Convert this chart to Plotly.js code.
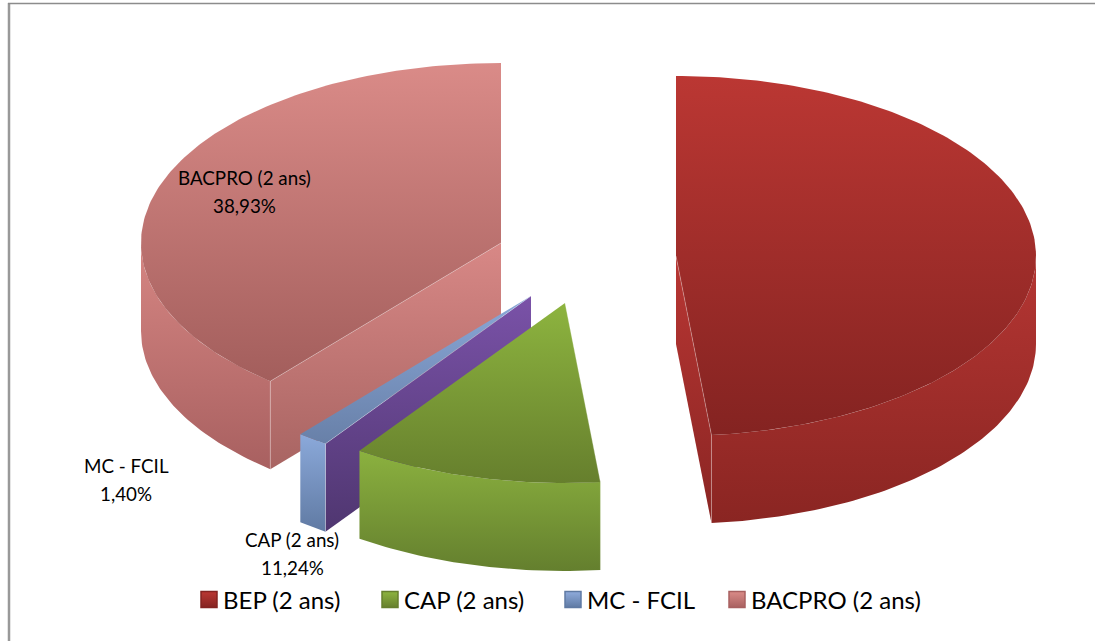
<!DOCTYPE html>
<html>
<head>
<meta charset="utf-8">
<title>Répartition par diplôme</title>
<script src="https://cdn.plot.ly/plotly-3.0.1.min.js"></script>
<style>html,body{margin:0;padding:0;background:#fff}#chart{width:1095px;height:641px}
/* the swatch sits closer to its label in the reference than the legend's fixed item gap allows */
#chart .legendpoints{transform:translateX(6px)}</style>
</head>
<body>
<div id="chart"></div>
<script>
// ---- data ----
const categories = ['BEP (2 ans)', 'CAP (2 ans)', 'MC - FCIL', 'BACPRO (2 ans)'];
const shares = [48.43, 11.24, 1.40, 38.93];

// ---- exploded-pie projection (pixel-scaled axes) ----
const centerX = [676, 565, 531, 501];
const centerY = [256, 303, 296, 243];
const labelX = [1096, 292, 126, 244];
const labelY = [228, 539, 465, 177];
const legendX = [183, 364, 547, 711];
const radiusX = 360, radiusY = 180, depth = 88;

// ---- styles ----
const topColors = [['#bb3733', '#842321'], ['#8db43f', '#667f2d'], ['#8aa8d8', '#6880a8'], ['#da8b88', '#a35e5c']];
const wallColors = [['#b53633', '#8a2522'], ['#8bb13f', '#647f2e'], ['#8ba9da', '#607aa3'], ['#d68683', '#a86060']];
const cutColors = [['#b83633', '#8a2523'], ['#8bb13f', '#647f2e'], ['#7a52a8', '#4f3670'], ['#d88886', '#a86462']];
const swatchColors = [['#bb3733', '#842321'], ['#8db43f', '#667f2d'], ['#8fabdc', '#5f7aa3'], ['#da8b88', '#a86060']];
const fontFamily = 'Lato, Carlito, Calibri, sans-serif';

const rad = d => d * Math.PI / 180;
const px = (i, a) => centerX[i] + radiusX * Math.sin(rad(a));
const py = (i, a, dz) => centerY[i] - radiusY * Math.cos(rad(a)) + (dz || 0);
function arcAngles(a0, a1) {
  const out = [];
  const n = Math.max(2, Math.ceil((a1 - a0) / 1));
  for (let k = 0; k <= n; k++) out.push(a0 + (a1 - a0) * k / n);
  return out;
}
function gradientTrace(xs, ys, colors, name) {
  return {
    type: 'scatter', mode: 'lines', x: xs, y: ys, fill: 'toself',
    line: {width: 0, color: colors[0]},
    fillcolor: colors[0],
    fillgradient: {type: 'vertical', colorscale: [[0, colors[1]], [1, colors[0]]]},
    showlegend: false, name: name, hoverinfo: 'name'
  };
}
function edgeTrace(xs, ys) {
  return {type: 'scatter', mode: 'lines', x: xs, y: ys,
    line: {width: 1, color: 'rgba(255,255,255,0.28)'}, showlegend: false, hoverinfo: 'skip'};
}

const traces = [];
const total = shares.reduce((a, b) => a + b, 0);
let acc = 0;
const spans = shares.map(v => { const s = [acc, acc + v / total * 360]; acc = s[1]; return s; });
const drawOrder = [3, 2, 1, 0];

drawOrder.forEach(i => {
  const [a0, a1] = spans[i];
  const name = categories[i];
  // radial cut faces turned towards the viewer
  [[a0, Math.sin(rad(a0)) < -1e-6], [a1, Math.sin(rad(a1)) > 1e-6]].forEach(([a, seen]) => {
    if (!seen) return;
    traces.push(gradientTrace(
      [centerX[i], px(i, a), px(i, a), centerX[i], centerX[i]],
      [centerY[i], py(i, a), py(i, a, depth), centerY[i] + depth, centerY[i]],
      cutColors[i], name));
  });
  // outer wall
  const w0 = Math.max(a0, 90), w1 = Math.min(a1, 270);
  if (w1 > w0) {
    const angs = arcAngles(w0, w1);
    const rev = angs.slice().reverse();
    traces.push(gradientTrace(
      angs.map(a => px(i, a)).concat(rev.map(a => px(i, a))),
      angs.map(a => py(i, a)).concat(rev.map(a => py(i, a, depth))),
      wallColors[i], name));
  }
  // top face
  const angs = arcAngles(a0, a1);
  traces.push(gradientTrace(
    [centerX[i]].concat(angs.map(a => px(i, a))).concat([centerX[i]]),
    [centerY[i]].concat(angs.map(a => py(i, a))).concat([centerY[i]]),
    topColors[i], name));
  // light edges at the visible corner
  const corner = Math.sin(rad(a1)) > 0 ? a1 : a0;
  traces.push(edgeTrace(
    [centerX[i], px(i, corner), px(i, corner)],
    [centerY[i], py(i, corner), py(i, corner, depth)]));
});

// legend entries
categories.forEach((c, i) => {
  traces.push({
    type: 'scatter', mode: 'markers', x: [null], y: [null], name: c,
    legend: i === 0 ? 'legend' : 'legend' + (i + 1),
    marker: {symbol: 'square', size: 16, color: swatchColors[i][0],
      gradient: {type: 'vertical', color: swatchColors[i][1]},
      line: {width: 1.5, color: swatchColors[i][1]}},
    showlegend: true, hoverinfo: 'skip'
  });
});

const pct = v => v.toFixed(2).replace('.', ',') + '%';
const annotations = [];
categories.forEach((c, i) => {
  annotations.push({x: labelX[i], y: labelY[i], xref: 'x', yref: 'y', text: c, showarrow: false,
    xanchor: 'center', yanchor: 'middle', font: {family: fontFamily, size: 18.8, color: '#000'}});
  annotations.push({x: labelX[i], y: labelY[i] + 28, xref: 'x', yref: 'y', text: pct(shares[i]), showarrow: false,
    xanchor: 'center', yanchor: 'middle', font: {family: fontFamily, size: 18.8, color: '#000'}});
});

const W = 1095, H = 641;
const legendBase = {orientation: 'h', y: 1 - 600 / H, yanchor: 'middle', xanchor: 'left',
  bgcolor: 'rgba(0,0,0,0)', borderwidth: 0, itemwidth: 30, itemclick: false, itemdoubleclick: false,
  font: {family: fontFamily, size: 24, color: '#000'}};
const layout = {
  width: W, height: H,
  margin: {l: 0, r: 0, t: 0, b: 0},
  paper_bgcolor: '#fff', plot_bgcolor: '#fff',
  font: {family: fontFamily},
  xaxis: {visible: false, range: [0, W], fixedrange: true},
  yaxis: {visible: false, range: [H, 0], fixedrange: true},
  annotations: annotations,
  shapes: [
    {type: 'line', xref: 'x', yref: 'y', x0: 9, x1: 9, y0: 3, y1: H, line: {color: '#999999', width: 2.5}},
    {type: 'line', xref: 'x', yref: 'y', x0: 8, x1: W, y0: 3.5, y1: 3.5, line: {color: '#8c8c8c', width: 1.5}}
  ]
};
legendX.forEach((x, i) => {
  layout[i === 0 ? 'legend' : 'legend' + (i + 1)] = Object.assign({}, legendBase, {x: x / W});
});

Plotly.newPlot('chart', traces, layout, {displayModeBar: false, responsive: false});
</script>
</body>
</html>
